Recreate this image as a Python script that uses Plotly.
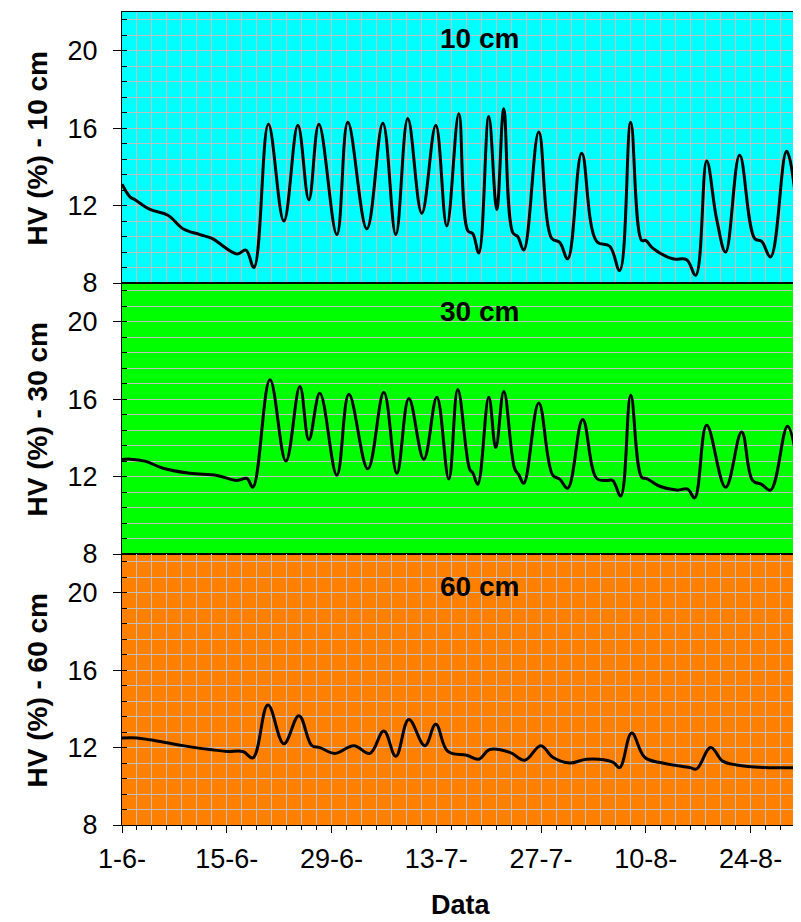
import plotly.graph_objects as go
from plotly.subplots import make_subplots

# ---- data (days since 1 June) ----
day_10 = [0, 1.07, 1.74, 3.74, 6.14, 8.15, 10.42, 12.02, 15.36, 16.56, 17.63, 19.56, 21.63, 23.50, 24.97,
          26.31, 28.71, 30.18, 32.72, 34.86, 36.59, 38.19, 40.06, 41.93, 43.40, 45.01, 46.21, 46.87, 47.68,
          49.01, 50.08, 51.02, 52.22, 52.88, 53.69, 55.69, 57.43, 58.49, 59.56, 61.43, 63.43, 65.17, 66.51,
          67.98, 69.44, 69.98, 70.91, 73.58, 75.45, 76.66, 78.13, 79.46, 80.66, 82.53, 84.54, 85.47, 86.67,
          88.81, 90.54]
hv_10 = [13.1, 12.45, 12.3, 11.8, 11.5, 10.8, 10.5, 10.3, 9.5, 9.7, 8.8, 16.2, 11.2, 16.15, 12.3,
         16.2, 10.5, 16.3, 10.8, 16.25, 10.5, 16.5, 11.6, 16.15, 10.95, 16.75, 10.7, 10.55, 9.55,
         16.6, 11.8, 17.0, 10.6, 10.4, 9.7, 15.8, 10.3, 10.1, 9.25, 14.7, 10.15, 9.9, 8.65,
         16.3, 10.2, 10.2, 9.8, 9.25, 9.2, 8.4, 14.3, 11.3, 9.6, 14.6, 10.3, 10.15, 9.35,
         14.8, 10.4]

day_30 = [0, 1.07, 3.07, 5.48, 9.08, 12.69, 15.36, 16.69, 17.49, 19.77, 21.90, 23.77, 24.97, 26.44,
          28.71, 30.32, 32.85, 34.99, 36.73, 38.33, 40.33, 42.07, 43.67, 44.87, 46.47, 46.87, 47.54,
          49.01, 49.95, 51.02, 52.48, 53.02, 53.69, 55.69, 57.56, 58.49, 59.56, 61.56, 63.43, 64.77,
          65.57, 66.64, 67.98, 69.44, 70.11, 71.85, 74.12, 75.59, 76.52, 78.13, 80.66, 82.80, 84.27,
          85.47, 86.67, 88.94, 90.54]
hv_30 = [12.88, 12.9, 12.8, 12.43, 12.17, 12.06, 11.8, 11.9, 11.45, 17.0, 12.8, 16.65, 13.9, 16.3,
         12.07, 16.25, 12.4, 16.35, 12.17, 16.03, 12.9, 16.1, 11.87, 16.5, 12.37, 12.2, 11.6,
         16.1, 13.5, 16.4, 12.4, 12.1, 11.65, 15.8, 12.07, 11.87, 11.4, 14.95, 11.9, 11.8,
         11.8, 11.0, 16.2, 11.97, 11.9, 11.5, 11.3, 11.35, 10.9, 14.65, 11.45, 14.3, 11.8,
         11.6, 11.3, 14.6, 11.8]

day_60 = [0, 2.00, 3.74, 6.01, 8.15, 11.75, 14.02, 16.16, 17.49, 19.50, 21.63, 23.64, 25.37, 26.44,
          28.45, 30.98, 33.12, 34.99, 36.59, 38.33, 40.46, 41.93, 43.54, 46.07, 47.68, 49.15, 51.82,
          53.82, 55.96, 57.56, 59.83, 62.10, 65.57, 66.51, 68.11, 69.84, 72.24, 75.85, 76.79, 78.66,
          80.26, 82.13, 85.60, 90.54]
hv_60 = [12.5, 12.5, 12.4, 12.25, 12.1, 11.9, 11.8, 11.8, 11.47, 14.2, 12.2, 13.65, 12.1, 12.0,
         11.7, 12.1, 11.7, 12.85, 11.55, 13.45, 12.1, 13.2, 11.8, 11.6, 11.4, 11.9, 11.75,
         11.35, 12.1, 11.5, 11.2, 11.4, 11.25, 10.97, 12.75, 11.5, 11.2, 10.97, 10.9, 12.0,
         11.3, 11.1, 10.97, 10.97]

tick_days = [0, 14, 28, 42, 56, 70, 84]
tick_labels = ["1-6-", "15-6-", "29-6-", "13-7-", "27-7-", "10-8-", "24-8-"]
y_ticks = [8, 12, 16, 20]
panel_names = ["10 cm", "30 cm", "60 cm"]
y_titles = ["HV (%) - 10 cm", "HV (%) - 30 cm", "HV (%) - 60 cm"]
panel_colors = ["#00FFFF", "#00FF00", "#FF8000"]

series = [(day_10, hv_10), (day_30, hv_30), (day_60, hv_60)]

FONT = "Liberation Sans, Arial, sans-serif"
GRID = "#C0C0C0"

fig = make_subplots(rows=3, cols=1, shared_xaxes=True, vertical_spacing=0)

for i, (d, v) in enumerate(series):
    fig.add_trace(go.Scatter(x=d, y=v, mode="lines",
                             line=dict(color="black", width=3, shape="spline", smoothing=1.1),
                             showlegend=False), row=i + 1, col=1)

for i in range(3):
    r = i + 1
    xa = "x" if r == 1 else f"x{r}"
    ya = "y" if r == 1 else f"y{r}"
    fig.add_shape(type="rect", xref=f"{xa} domain", yref=f"{ya} domain",
                  x0=0, x1=1, y0=0, y1=1, fillcolor=panel_colors[i],
                  line=dict(width=0), layer="below")
    fig.update_yaxes(range=[8, 22], tickvals=y_ticks, ticks="outside", ticklen=8,
                     tickcolor="black", tickwidth=1, ticklabelstandoff=10,
                     showline=True, linecolor="black", linewidth=1,
                     showgrid=True, gridcolor=GRID, gridwidth=1,
                     minor=dict(dtick=0.8, tick0=8, ticks="inside", ticklen=5, tickcolor="black",
                                showgrid=True, gridcolor=GRID, gridwidth=1),
                     tickfont=dict(family=FONT, size=27, color="black"),
                     automargin=False, zeroline=False, row=r, col=1)
    show_vgrid = (i != 1)
    fig.update_xaxes(range=[0, 90.6], tickvals=tick_days, ticktext=tick_labels,
                     showline=True, linecolor="black", linewidth=1, mirror=True,
                     showgrid=show_vgrid, gridcolor=GRID, gridwidth=1,
                     automargin=False, zeroline=False, row=r, col=1)
    if r < 3:
        fig.update_xaxes(ticks="", showticklabels=False,
                         minor=dict(dtick=2, tick0=0, showgrid=show_vgrid, gridcolor=GRID, gridwidth=1),
                         row=r, col=1)
    else:
        fig.update_xaxes(ticks="outside", ticklen=7, tickcolor="black", showticklabels=True,
                         ticklabelstandoff=3,
                         tickfont=dict(family=FONT, size=27, color="black"),
                         minor=dict(dtick=2, tick0=0, ticks="outside", ticklen=4, tickcolor="black",
                                    showgrid=True, gridcolor=GRID, gridwidth=1),
                         row=r, col=1)
    fig.add_annotation(text=f"<b>{panel_names[i]}</b>", xref=f"{xa} domain", yref=f"{ya} domain",
                       x=0.528, y=[0.903, 0.893, 0.879][i], showarrow=False,
                       xanchor="center", yanchor="middle",
                       font=dict(family=FONT, size=28, color="black"))
    # y-axis title
    fig.add_annotation(text=f"<b>{y_titles[i]}</b>", xref="paper", yref=f"{ya} domain",
                       x=-0.1239, y=0.5, showarrow=False, textangle=-90,
                       xanchor="center", yanchor="middle",
                       font=dict(family=FONT, size=28, color="black"))

# x-axis title
fig.add_annotation(text="<b>Data</b>", xref="paper", yref="paper", x=0.5, y=-0.0984,
                   showarrow=False, xanchor="center", yanchor="middle",
                   font=dict(family=FONT, size=27, color="black"))

# page body adds an 8 px margin, so the figure is smaller than the window
fig.update_layout(width=793, height=914, margin=dict(l=114, r=1, t=4, b=97),
                  paper_bgcolor="white", plot_bgcolor="white")

fig.write_html("out.html")
